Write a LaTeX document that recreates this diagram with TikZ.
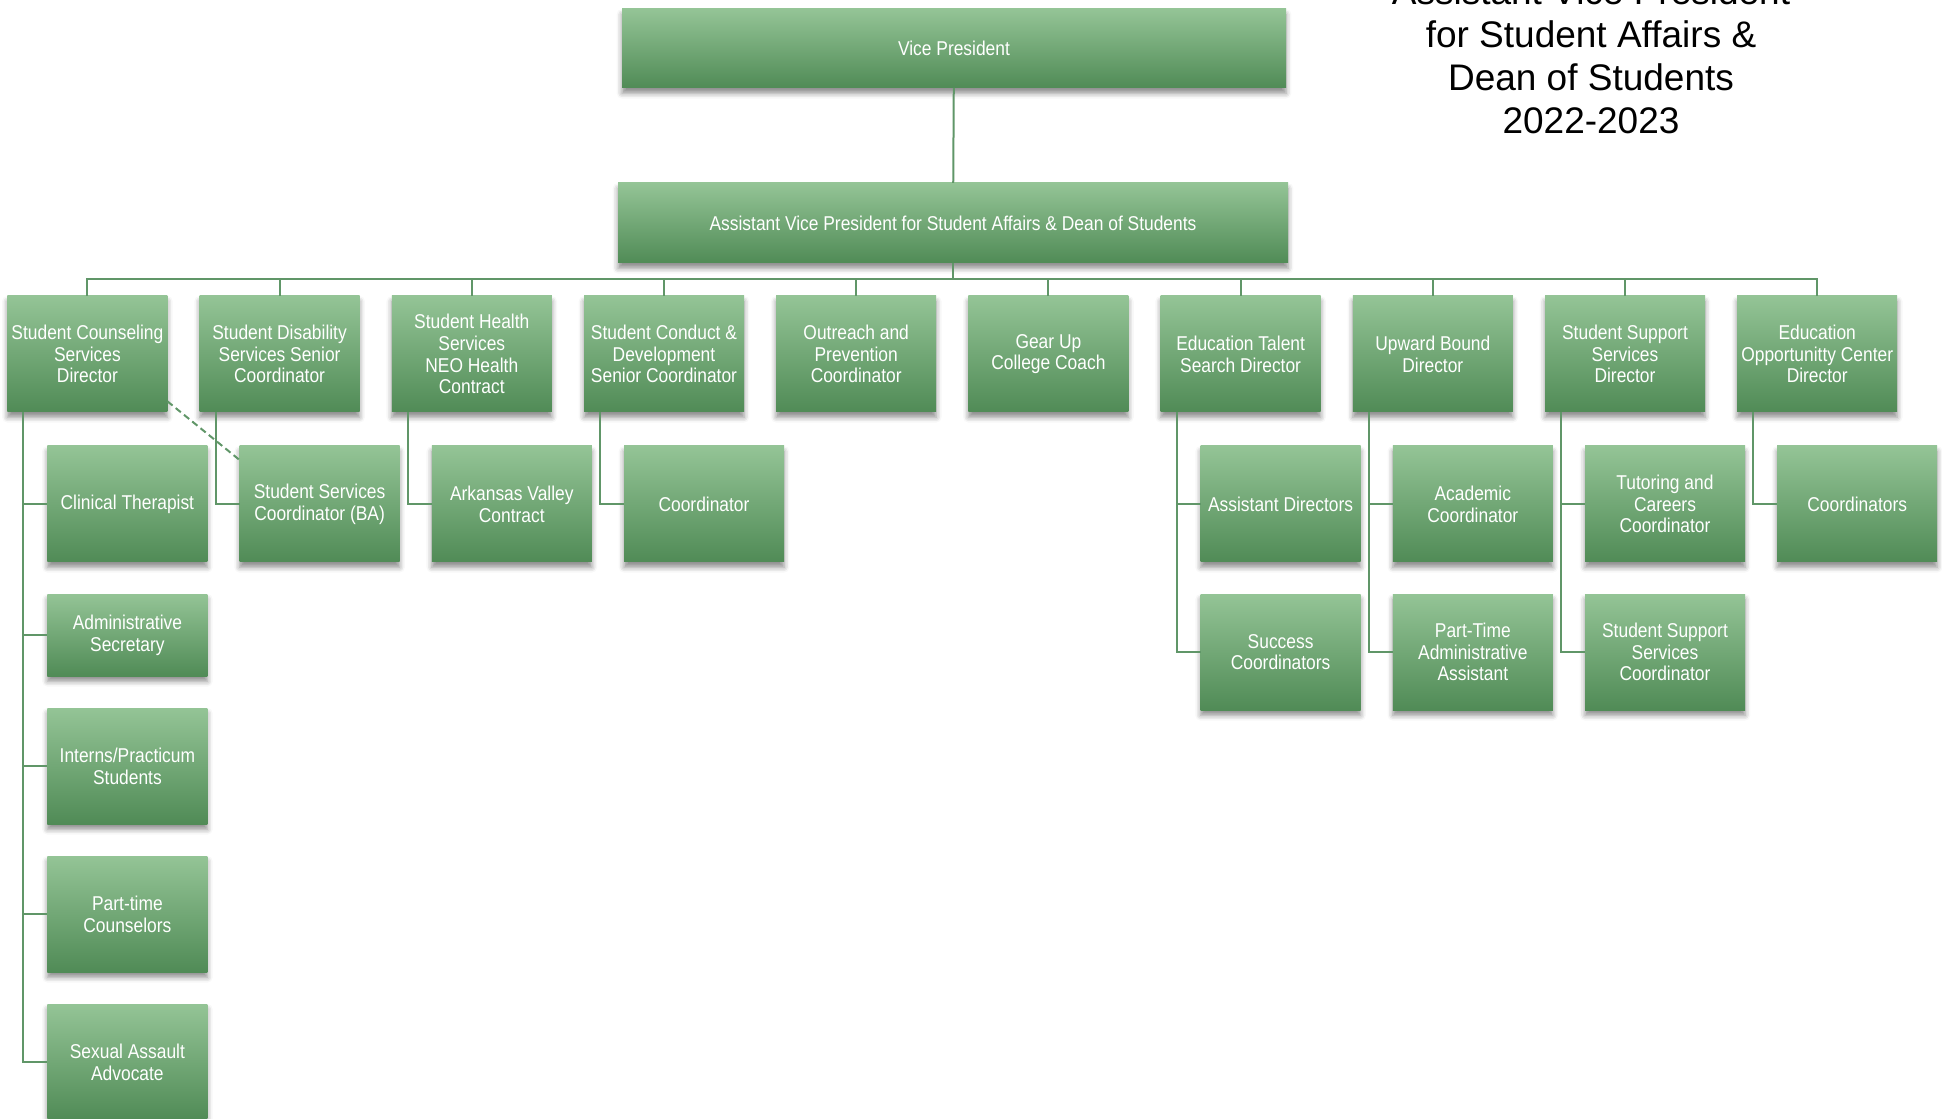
\documentclass[tikz,border=0pt]{standalone}
\usepackage{fontspec}
\setmainfont{Liberation Sans}
\newfontfamily\boxfont[FakeStretch=0.87]{Liberation Sans}
\usetikzlibrary{positioning,shadows.blur}

\definecolor{boxtop}{RGB}{148,196,150}
\definecolor{boxbot}{RGB}{80,139,86}
\definecolor{linegreen}{RGB}{96,150,104}

\tikzset{
  unit/.style={rectangle, minimum width=120pt, minimum height=87pt,
    top color=boxtop, bottom color=boxbot, text=white, align=center,
    inner sep=1pt, outer sep=0pt, font=\boxfont\fontsize{15}{16.3}\selectfont,
    blur shadow={shadow xshift=0pt, shadow yshift=-4pt,
      shadow blur radius=4pt, shadow opacity=45}},
  link/.style={draw=linegreen, line width=1.5pt},
  heading/.style={align=center, font=\fontsize{27.75}{32.25}\selectfont},
}

\begin{document}
\begin{tikzpicture}[x=0.75pt, y=-0.75pt]
  \useasboundingbox (0,0) rectangle (1942,1119);
  %标题
  \node[heading] (ttl) at (1591,56) {Assistant Vice President\\for Student Affairs \&\\Dean of Students\\2022-2023};

  %上面两个方框
  \node[unit, minimum width=498pt, minimum height=59.25pt] (vp) at (954,48.5) {Vice President};
  \node[unit, minimum width=502.5pt, minimum height=60pt] (avp) at (953,223) {Assistant Vice President for Student Affairs \& Dean of Students};
  \draw[link] (vp) -- (avp);

  %第二层的十个方框
  \node[unit] (cnsl) at (87.4,354) {Student Counseling\\Services\\Director};
  \node[unit, right=24.15pt of cnsl] (dsbl) {Student Disability\\Services Senior\\Coordinator};
  \node[unit, right=24.15pt of dsbl] (hlth) {Student Health\\Services\\NEO Health\\Contract};
  \node[unit, right=24.15pt of hlth] (cndt) {Student Conduct \&\\Development\\Senior Coordinator};
  \node[unit, right=24.15pt of cndt] (outr) {Outreach and\\Prevention\\Coordinator};
  \node[unit, right=24.15pt of outr] (gear) {Gear Up\\College Coach};
  \node[unit, right=24.15pt of gear] (ets) {Education Talent\\Search Director};
  \node[unit, right=24.15pt of ets] (ub) {Upward Bound\\Director};
  \node[unit, right=24.15pt of ub] (sss) {Student Support\\Services\\Director};
  \node[unit, right=24.15pt of sss] (eoc) {Education\\Opportunitty Center\\Director};

  %横线连到每个方框
  \coordinate (bus) at (953,279);
  \draw[link] (avp.south) -- (bus);
  \draw[link] (cnsl.north) -- (cnsl.north |- bus) -- (eoc.north |- bus) -- (eoc.north);
  \foreach \d in {dsbl,hlth,cndt,outr,gear,ets,ub,sss}
    \draw[link] (\d.north) -- (\d.north |- bus);

  %心理咨询下面的五个方框
  \node[unit, anchor=north west] (clin) at ([xshift=30pt, yshift=-25.5pt]cnsl.south west) {Clinical Therapist};
  \node[unit, minimum height=61.5pt, below=24pt of clin] (asec) {Administrative\\Secretary};
  \node[unit, below=24pt of asec] (intn) {Interns/Practicum\\Students};
  \node[unit, below=24pt of intn] (part) {Part-time\\Counselors};
  \node[unit, below=24pt of part] (sxa) {Sexual Assault\\Advocate};
  \foreach \c in {clin,asec,intn,part,sxa}
    \draw[link] ([xshift=12pt]cnsl.south west) |- (\c.west);

  %其他部门下面的方框
  \node[unit, anchor=north west] (ba) at ([xshift=30pt, yshift=-25.5pt]dsbl.south west) {Student Services\\Coordinator (BA)};
  \node[unit, anchor=north west] (avc) at ([xshift=30pt, yshift=-25.5pt]hlth.south west) {Arkansas Valley\\Contract};
  \node[unit, anchor=north west] (crd) at ([xshift=30pt, yshift=-25.5pt]cndt.south west) {Coordinator};
  \node[unit, anchor=north west] (asd) at ([xshift=30pt, yshift=-25.5pt]ets.south west) {Assistant Directors};
  \node[unit, below=24pt of asd] (suc) {Success\\Coordinators};
  \node[unit, anchor=north west] (acd) at ([xshift=30pt, yshift=-25.5pt]ub.south west) {Academic\\Coordinator};
  \node[unit, below=24pt of acd] (pta) {Part-Time\\Administrative\\Assistant};
  \node[unit, anchor=north west] (tut) at ([xshift=30pt, yshift=-25.5pt]sss.south west) {Tutoring and\\Careers\\Coordinator};
  \node[unit, below=24pt of tut] (ssc) {Student Support\\Services\\Coordinator};
  \node[unit, anchor=north west] (crds) at ([xshift=30pt, yshift=-25.5pt]eoc.south west) {Coordinators};

  \draw[link] ([xshift=12pt]dsbl.south west) |- (ba.west);
  \draw[link] ([xshift=12pt]hlth.south west) |- (avc.west);
  \draw[link] ([xshift=12pt]cndt.south west) |- (crd.west);
  \draw[link] ([xshift=12pt]ets.south west) |- (asd.west);
  \draw[link] ([xshift=12pt]ets.south west) |- (suc.west);
  \draw[link] ([xshift=12pt]ub.south west) |- (acd.west);
  \draw[link] ([xshift=12pt]ub.south west) |- (pta.west);
  \draw[link] ([xshift=12pt]sss.south west) |- (tut.west);
  \draw[link] ([xshift=12pt]sss.south west) |- (ssc.west);
  \draw[link] ([xshift=12pt]eoc.south west) |- (crds.west);

  %虚线
  \draw[link, dash pattern=on 5pt off 3pt] ([yshift=8pt]cnsl.south east) -- ([yshift=-10.5pt]ba.north west);
\end{tikzpicture}
\end{document}
